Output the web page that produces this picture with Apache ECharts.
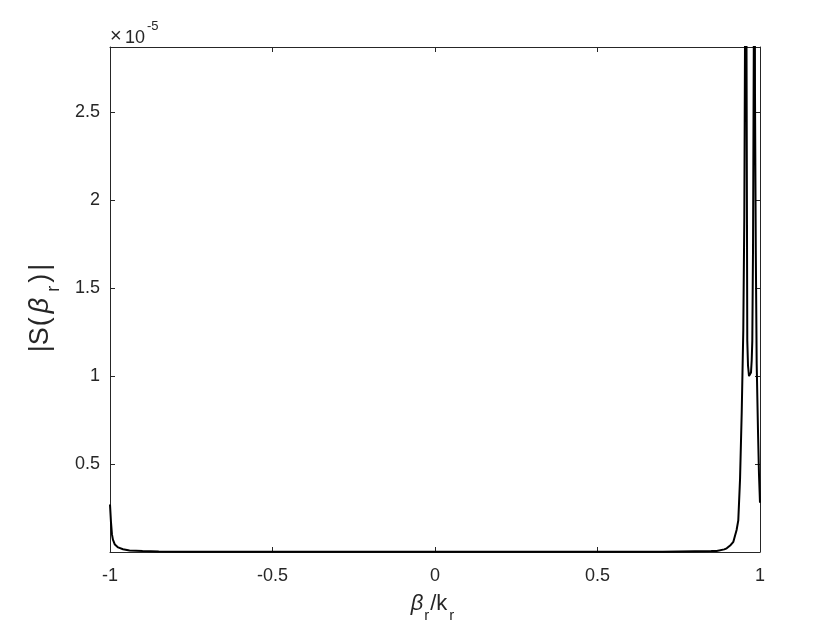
<!DOCTYPE html>
<html>
<head>
<meta charset="utf-8">
<title>|S(beta_r)|</title>
<script src="https://cdn.jsdelivr.net/npm/echarts@6/dist/echarts.min.js"></script>
<style>
    html, body { margin: 0; padding: 0; background: #fff; }
    #chart { width: 840px; height: 630px; }
</style>
</head>
<body>
<div id="chart"></div>
<script>
// beta_r / k_r
var betaX = [
    -1, -0.997, -0.994, -0.991, -0.985, -0.975, -0.96, -0.94, -0.9, -0.85, -0.75, -0.5,
    0, 0.5, 0.7, 0.8, 0.85, 0.8668, 0.89, 0.8975, 0.91, 0.918, 0.928, 0.9332,
    0.9385, 0.9437, 0.9486, 0.9517, 0.9538, 0.9557, 0.9585, 0.9609, 0.9631, 0.9662,
    0.9692, 0.9723, 0.9745, 0.9763, 0.9785, 0.9809, 0.9828, 0.9846, 0.9871, 0.9898,
    0.9938, 0.9969, 1
];
// |S| in units of 1e-5
var sAbs = [
    0.27, 0.17, 0.10, 0.07, 0.042, 0.026, 0.016, 0.009, 0.005, 0.003, 0.002, 0.001,
    0.0008, 0.001, 0.002, 0.004, 0.005, 0.006, 0.015, 0.021, 0.04, 0.058, 0.125, 0.18,
    0.41, 0.79, 1.26, 1.9, 2.87, 4.5, 2.87, 1.2, 1.06, 1.0,
    0.99, 1.02, 1.09, 1.2, 1.72, 2.87, 4.5, 2.6, 1.7, 1.07,
    0.69, 0.44, 0.28
];
var xTicks = [-1, -0.5, 0, 0.5, 1];
var yTicks = [0.5, 1, 1.5, 2, 2.5];

var axisColor = '#262626';
var fontName = 'Liberation Sans';

var chart = echarts.init(document.getElementById('chart'));

var points = [];
for (var i = 0; i < betaX.length; i++) {
    points.push([betaX[i], sAbs[i]]);
}

// 画框用的轴（上、右）
function frameAxis(pos, isX) {
    return {
        type: 'value',
        position: pos,
        min: isX ? -1 : 0,
        max: isX ? 1 : 2.87,
        axisLine: { show: true, onZero: false, lineStyle: { color: axisColor, width: 1 } },
        axisTick: {
            show: true, inside: true, length: 5,
            customValues: isX ? xTicks : yTicks,
            lineStyle: { color: axisColor }
        },
        axisLabel: { show: false },
        splitLine: { show: false }
    };
}

var xBottom = frameAxis('bottom', true);
xBottom.axisLabel = {
    show: true,
    customValues: xTicks,
    margin: 15,
    color: axisColor,
    fontFamily: fontName,
    fontSize: 18
};
xBottom.name = '{b|β}{s|r}{n|/k}{e|r}';
xBottom.nameLocation = 'middle';
xBottom.nameGap = 41;
xBottom.nameTextStyle = {
    rich: {
        b: { fontFamily: fontName, fontSize: 22, fontStyle: 'italic', color: axisColor, lineHeight: 25, verticalAlign: 'top' },
        n: { fontFamily: fontName, fontSize: 22, color: axisColor, lineHeight: 25, verticalAlign: 'top' },
        s: { fontFamily: fontName, fontSize: 15, color: axisColor, lineHeight: 17, verticalAlign: 'top', padding: [15, 1, 0, 1] },
        e: { fontFamily: fontName, fontSize: 15, color: axisColor, lineHeight: 17, verticalAlign: 'top', padding: [15, 5, 0, 2] }
    }
};

var yLeft = frameAxis('left', false);
yLeft.axisLabel = {
    show: true,
    customValues: yTicks,
    margin: 10,
    color: axisColor,
    fontFamily: fontName,
    fontSize: 18
};
yLeft.name = '{n||S}{o|(}{b|β}{s|r}{c|)}{z||}';
yLeft.nameLocation = 'middle';
yLeft.nameRotate = 90;
yLeft.nameGap = 53;
yLeft.nameTextStyle = {
    rich: {
        n: { fontFamily: fontName, fontSize: 27, color: axisColor, lineHeight: 30, verticalAlign: 'top' },
        o: { fontFamily: fontName, fontSize: 27, color: axisColor, lineHeight: 30, verticalAlign: 'top', padding: [0, 0, 0, 1] },
        b: { fontFamily: fontName, fontSize: 27, fontStyle: 'italic', color: axisColor, lineHeight: 30, verticalAlign: 'top', padding: [0, 3, 0, 4] },
        s: { fontFamily: fontName, fontSize: 18, color: axisColor, lineHeight: 20, verticalAlign: 'top', padding: [18, 2, 0, 3] },
        c: { fontFamily: fontName, fontSize: 27, color: axisColor, lineHeight: 30, verticalAlign: 'top', padding: [0, 2, 0, 1] },
        z: { fontFamily: fontName, fontSize: 27, color: axisColor, lineHeight: 30, verticalAlign: 'top', padding: [0, 17, 0, 1] }
    }
};

// 指数标注 ×10^-5
var expMark = {
    type: 'group',
    left: 110,
    top: 20,
    children: [
        { type: 'text', x: 0, y: 6, style: { text: '×', fontFamily: fontName, fontSize: 20, fill: axisColor } },
        { type: 'text', x: 15, y: 9, style: { text: '10', fontFamily: fontName, fontSize: 18, fill: axisColor } },
        { type: 'text', x: 37, y: 0, style: { text: '-5', fontFamily: fontName, fontSize: 13, fill: axisColor } }
    ]
};

var option = {
    backgroundColor: '#ffffff',
    animation: false,
    grid: { left: 110, right: 80, top: 47, bottom: 78, containLabel: false },
    xAxis: [xBottom, frameAxis('top', true)],
    yAxis: [yLeft, frameAxis('right', false)],
    graphic: [expMark],
    series: [{
        type: 'line',
        xAxisIndex: 0,
        yAxisIndex: 0,
        data: points,
        showSymbol: false,
        smooth: false,
        clip: true,
        lineStyle: { color: '#000000', width: 2 }
    }]
};
chart.setOption(option);
</script>
</body>
</html>
